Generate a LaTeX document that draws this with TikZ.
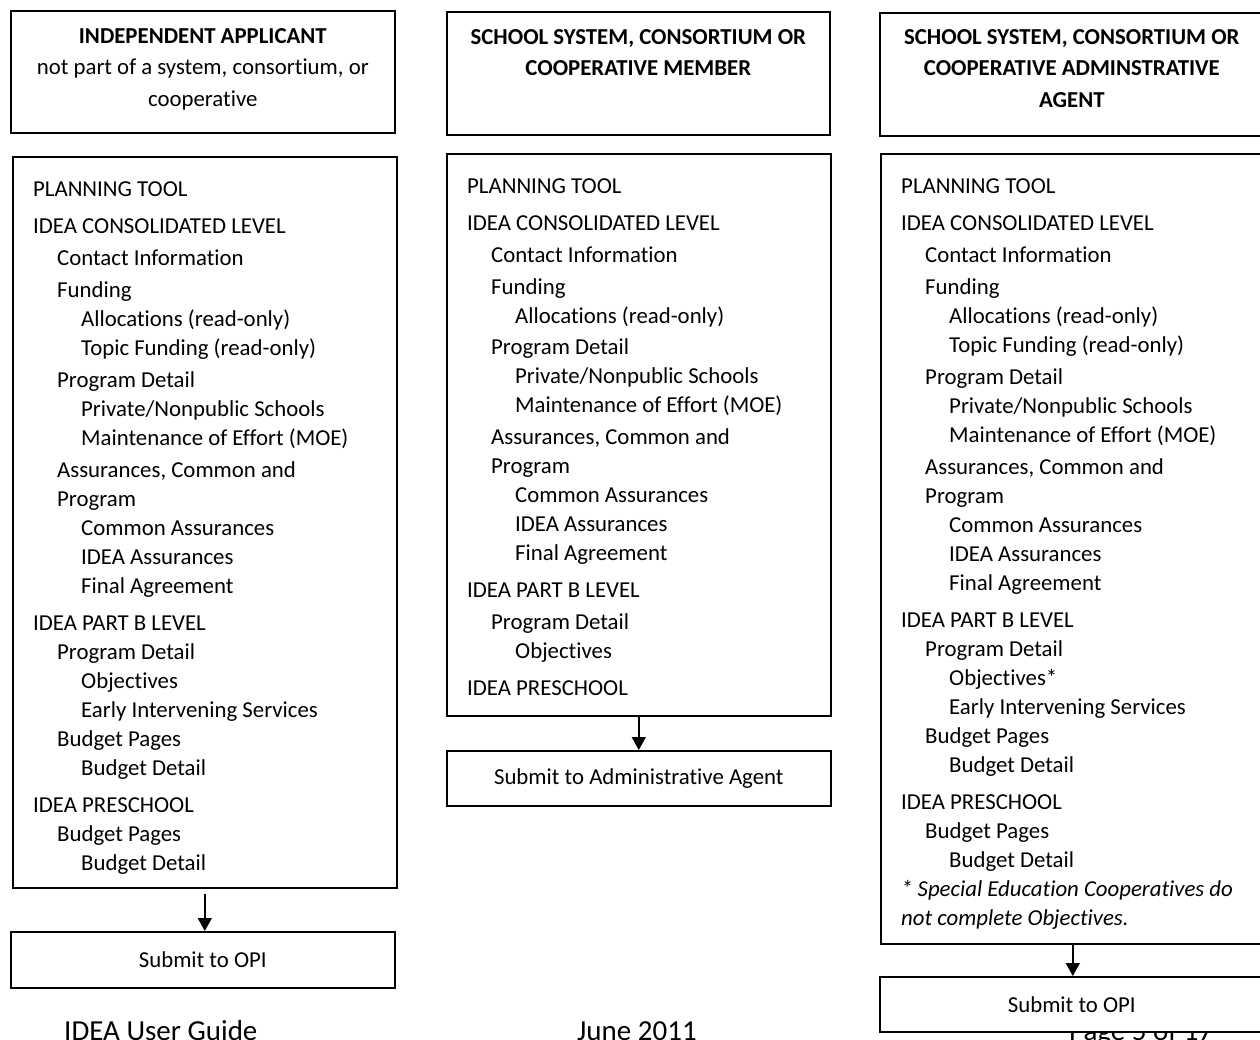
\documentclass[tikz,border=0pt]{standalone}
\usepackage{fontspec}
\setmainfont{Carlito}[Ligatures=NoCommon]
\usetikzlibrary{positioning,arrows.meta}
\newcommand{\lvone}{\hspace*{24pt}}
\newcommand{\lvtwo}{\hspace*{48pt}}

\begin{document}
\begin{tikzpicture}[x=1pt,y=-1pt,
    box/.style={draw,line width=1.6pt,anchor=north west,minimum width=384pt,inner sep=0pt},
    headtext/.style={inner sep=0pt,font=\fontsize{22.8}{31.5}\selectfont},
    listtext/.style={inner sep=0pt,font=\fontsize{22.8}{29}\selectfont},
    submitbox/.style={box,fill=white,font=\fontsize{22.8}{29}\selectfont},
    footer/.style={anchor=base west,inner sep=0pt,font=\fontsize{29}{32}\selectfont},
    flow/.style={line width=1.6pt,-{Triangle[width=14pt,length=13pt]}}]
    \useasboundingbox (0,0) rectangle (1260,1040);
    \clip (0,0) rectangle (1260,1040);

    % footer of the page
    \node[footer] (guide) at (64,1040) {IDEA User Guide};
    \node[footer] (date) at (577,1040) {June 2011};
    \node[footer] (page) at (1069,1040) {Page 5 of 17};

    % independent applicant
    \node[box,minimum height=122pt] (headA) at (10,10) {};
    \node[headtext,below=11pt of headA.north] (headAtext) {
        \begin{tabular}{@{}c@{}}
            \textbf{INDEPENDENT APPLICANT}\\
            not part of a system, consortium, or\\
            cooperative
        \end{tabular}
    };
    \node[box,minimum height=731pt] (planA) at (12,156) {};
    \node[listtext,below right=20pt and 21pt of planA.north west] (listA) {
        \begin{tabular}{@{}l@{}}
            PLANNING TOOL\\[8pt]
            IDEA CONSOLIDATED LEVEL\\[3pt]
            \lvone Contact Information\\[3pt]
            \lvone Funding\\
            \lvtwo Allocations (read-only)\\
            \lvtwo Topic Funding (read-only)\\[3pt]
            \lvone Program Detail\\
            \lvtwo Private/Nonpublic Schools\\
            \lvtwo Maintenance of Effort (MOE)\\[3pt]
            \lvone Assurances, Common and\\
            \lvone Program\\
            \lvtwo Common Assurances\\
            \lvtwo IDEA Assurances\\
            \lvtwo Final Agreement\\[8pt]
            IDEA PART B LEVEL\\
            \lvone Program Detail\\
            \lvtwo Objectives\\
            \lvtwo Early Intervening Services\\
            \lvone Budget Pages\\
            \lvtwo Budget Detail\\[8pt]
            IDEA PRESCHOOL\\
            \lvone Budget Pages\\
            \lvtwo Budget Detail
        \end{tabular}
    };
    \node[submitbox,minimum height=56pt] (subA) at (10,931) {Submit to OPI};
    \draw[flow] ([yshift=-5pt]planA.south) -- (planA.south |- subA.north);

    % member of a system, consortium or cooperative
    \node[box,minimum height=123pt,minimum width=383pt] (headB) at (446,11) {};
    \node[headtext,below=11pt of headB.north] (headBtext) {
        \begin{tabular}{@{}c@{}}
            \textbf{SCHOOL SYSTEM, CONSORTIUM OR}\\
            \textbf{COOPERATIVE MEMBER}
        \end{tabular}
    };
    \node[box,minimum height=562pt] (planB) at (446,153) {};
    \node[listtext,below right=20pt and 21pt of planB.north west] (listB) {
        \begin{tabular}{@{}l@{}}
            PLANNING TOOL\\[8pt]
            IDEA CONSOLIDATED LEVEL\\[3pt]
            \lvone Contact Information\\[3pt]
            \lvone Funding\\
            \lvtwo Allocations (read-only)\\[2pt]
            \lvone Program Detail\\
            \lvtwo Private/Nonpublic Schools\\
            \lvtwo Maintenance of Effort (MOE)\\[3pt]
            \lvone Assurances, Common and\\
            \lvone Program\\
            \lvtwo Common Assurances\\
            \lvtwo IDEA Assurances\\
            \lvtwo Final Agreement\\[8pt]
            IDEA PART B LEVEL\\[3pt]
            \lvone Program Detail\\
            \lvtwo Objectives\\[8pt]
            IDEA PRESCHOOL
        \end{tabular}
    };
    \node[submitbox,minimum height=55pt] (subB) at (446,750) {Submit to Administrative Agent};
    \draw[flow] (planB.south) -- (planB.south |- subB.north);

    % administrative agent
    \node[box,minimum height=123pt] (headC) at (879,12) {};
    \node[headtext,below=10pt of headC.north] (headCtext) {
        \begin{tabular}{@{}c@{}}
            \textbf{SCHOOL SYSTEM, CONSORTIUM OR}\\
            \textbf{COOPERATIVE ADMINSTRATIVE}\\
            \textbf{AGENT}
        \end{tabular}
    };
    \node[box,minimum height=790pt] (planC) at (880,153) {};
    \node[listtext,below right=20pt and 21pt of planC.north west] (listC) {
        \begin{tabular}{@{}l@{}}
            PLANNING TOOL\\[8pt]
            IDEA CONSOLIDATED LEVEL\\[3pt]
            \lvone Contact Information\\[3pt]
            \lvone Funding\\
            \lvtwo Allocations (read-only)\\
            \lvtwo Topic Funding (read-only)\\[3pt]
            \lvone Program Detail\\
            \lvtwo Private/Nonpublic Schools\\
            \lvtwo Maintenance of Effort (MOE)\\[3pt]
            \lvone Assurances, Common and\\
            \lvone Program\\
            \lvtwo Common Assurances\\
            \lvtwo IDEA Assurances\\
            \lvtwo Final Agreement\\[8pt]
            IDEA PART B LEVEL\\
            \lvone Program Detail\\
            \lvtwo Objectives*\\
            \lvtwo Early Intervening Services\\
            \lvone Budget Pages\\
            \lvtwo Budget Detail\\[8pt]
            IDEA PRESCHOOL\\
            \lvone Budget Pages\\
            \lvtwo Budget Detail\\
            \textit{* Special Education Cooperatives do}\\
            \textit{not complete Objectives.}
        \end{tabular}
    };
    \node[submitbox,minimum height=55pt] (subC) at (879,976) {Submit to OPI};
    \draw[flow] (planC.south) -- (planC.south |- subC.north);
\end{tikzpicture}
\end{document}
